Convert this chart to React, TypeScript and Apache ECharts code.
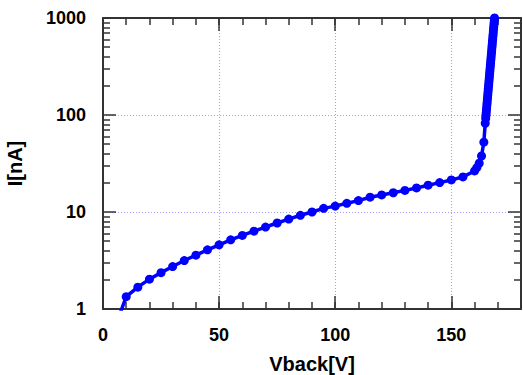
import React, { useEffect, useRef } from "react";
import * as echarts from "echarts";

// Back-bias voltage [V] and leakage current [nA]
const voltage = [
  5, 10, 15, 20, 25, 30, 35, 40, 45, 50, 55, 60, 65, 70, 75, 80, 85, 90, 95,
  100, 105, 110, 115, 120, 125, 130, 135, 140, 145, 150, 155, 160, 161, 162,
  163, 164, 164.6, 164.8, 164.9, 165.0, 165.1, 165.2, 165.3, 165.4, 165.5,
  165.6, 165.7, 165.8, 165.9, 166.0, 166.1, 166.2, 166.3, 166.4, 166.5, 166.6,
  166.7, 166.8, 166.9, 167.0, 167.1, 167.2, 167.3, 167.4, 167.5, 167.6, 167.7,
  167.8, 167.9, 168.0, 168.1, 168.2, 168.3, 168.4, 168.5, 168.6,
];
const current = [
  0.63, 1.34, 1.68, 2.03, 2.37, 2.74, 3.16, 3.59, 4.07, 4.59, 5.17, 5.73,
  6.35, 7.0, 7.7, 8.45, 9.25, 10.0, 10.9, 11.5, 12.3, 13.1, 14.2, 15.0, 15.8,
  16.7, 17.7, 18.9, 20.1, 21.4, 23.0, 26.5, 28.7, 31.8, 37.8, 52.5, 82, 92, 98,
  104, 111, 118, 126, 134, 143, 152, 162, 173, 184, 196, 208, 222, 236, 251,
  268, 285, 303, 323, 344, 366, 390, 415, 442, 471, 501, 534, 568, 605, 644,
  686, 731, 778, 828, 882, 939, 1000,
];

const xMin = 0;
const xMax = 180;
const xMajorStep = 50;
const xMinorStep = 10;
const xTickLabels = [0, 50, 100, 150];
const yMin = 1;
const yMax = 1000;
const yDecades = [0, 1, 2];
const yMinorFactors = [2, 3, 4, 5, 6, 7, 8, 9];

const FONT = "Liberation Sans, Arial, sans-serif";
const AXIS_COLOR = "#333333";
const GRID_COLOR = "#9c9cff";

export default function App() {
  const ref = useRef<HTMLDivElement>(null);

  useEffect(() => {
    if (!ref.current) return;
    const chart = echarts.init(ref.current, null, { renderer: "svg" });

    const yMinorLog: number[] = [];
    yDecades.forEach((d) =>
      yMinorFactors.forEach((f) => yMinorLog.push(d + Math.log10(f)))
    );

    const labelStyle = {
      fontFamily: FONT,
      fontWeight: "bold" as const,
      fontSize: 18,
      color: "#000",
    };
    const nameStyle = {
      fontFamily: FONT,
      fontWeight: "bold" as const,
      fontSize: 20,
      color: "#000",
    };
    const lineOn = { show: true, onZero: false, lineStyle: { color: AXIS_COLOR, width: 2 } };
    const lineOff = { show: false, onZero: false };
    const tick = (length: number, extra: any = {}) => ({
      show: true,
      inside: true,
      length,
      lineStyle: { color: AXIS_COLOR, width: 1.5 },
      ...extra,
    });
    const gridLine = {
      show: true,
      lineStyle: { color: GRID_COLOR, type: [1, 2] as any, width: 1 },
    };

    const data = voltage.map((v, i) => [v, current[i]]);

    chart.setOption({
      animation: false,
      backgroundColor: "#ffffff",
      grid: {
        left: 103,
        right: 2,
        top: 18,
        bottom: 66,
        containLabel: false,
        outerBoundsMode: "none",
      },
      xAxis: [
        {
          type: "value",
          position: "bottom",
          min: xMin,
          max: xMax,
          interval: xMinorStep,
          axisLine: lineOn,
          axisTick: tick(7),
          axisLabel: {
            ...labelStyle,
            interval: 0,
            margin: 17,
            formatter: (v: number) => (xTickLabels.includes(v) ? String(v) : ""),
          },
          splitLine: { show: false },
          name: "Vback[V]",
          nameLocation: "middle",
          nameGap: 45,
          nameTextStyle: nameStyle,
        },
        {
          type: "value",
          position: "bottom",
          min: xMin,
          max: xMax,
          interval: xMajorStep,
          axisLine: lineOff,
          axisTick: tick(13),
          axisLabel: { show: false },
          splitLine: gridLine,
        },
        {
          type: "value",
          position: "top",
          min: xMin,
          max: xMax,
          interval: xMinorStep,
          axisLine: lineOn,
          axisTick: tick(7),
          axisLabel: { show: false },
          splitLine: { show: false },
        },
        {
          type: "value",
          position: "top",
          min: xMin,
          max: xMax,
          interval: xMajorStep,
          axisLine: lineOff,
          axisTick: tick(13),
          axisLabel: { show: false },
          splitLine: { show: false },
        },
      ],
      yAxis: [
        {
          type: "log",
          logBase: 10,
          position: "left",
          min: yMin,
          max: yMax,
          axisLine: lineOn,
          axisTick: tick(13),
          axisLabel: {
            ...labelStyle,
            margin: 17,
            formatter: (v: number) => String(v),
          },
          splitLine: gridLine,
          minorTick: { show: false },
          name: "I[nA]",
          nameLocation: "middle",
          nameGap: 78,
          nameTextStyle: nameStyle,
        },
        {
          type: "value",
          position: "left",
          min: 0,
          max: 3,
          axisLine: lineOff,
          axisTick: tick(7, { customValues: yMinorLog }),
          axisLabel: { show: false },
          splitLine: { show: false },
        },
        {
          type: "log",
          logBase: 10,
          position: "right",
          min: yMin,
          max: yMax,
          axisLine: lineOn,
          axisTick: tick(13),
          axisLabel: { show: false },
          splitLine: { show: false },
        },
        {
          type: "value",
          position: "right",
          min: 0,
          max: 3,
          axisLine: lineOff,
          axisTick: tick(7, { customValues: yMinorLog }),
          axisLabel: { show: false },
          splitLine: { show: false },
        },
      ],
      series: [
        {
          type: "line",
          xAxisIndex: 0,
          yAxisIndex: 0,
          data,
          clip: true,
          symbol: "circle",
          symbolSize: 9,
          showSymbol: true,
          lineStyle: { color: "#0000ff", width: 3.5 },
          itemStyle: { color: "#0000ff" },
          z: 5,
        },
      ],
    });

    return () => chart.dispose();
  }, []);

  return (
    <div
      ref={ref}
      style={{ position: "absolute", left: 0, top: 0, width: 523, height: 375 }}
    />
  );
}
